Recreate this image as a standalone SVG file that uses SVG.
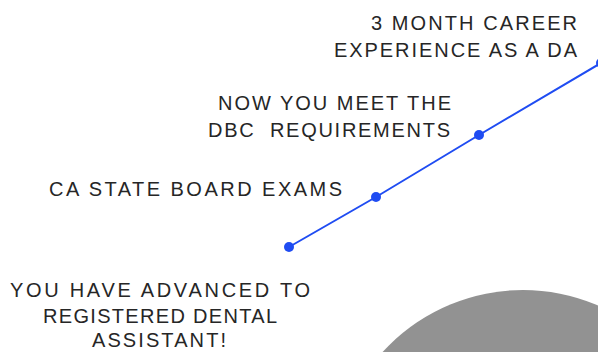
<svg xmlns="http://www.w3.org/2000/svg" width="598" height="352" viewBox="0 0 598 352">
<style>
.t{font-family:"Liberation Sans","Open Sans",sans-serif;font-size:20px;fill:#262626;white-space:pre}
.dot{fill:#1f4cf2}
</style>
<rect width="598" height="352" fill="#ffffff"/>
<circle cx="523" cy="480" r="190" fill="#929292"/>
<g id="connectors">
<polyline points="289,247 376,197 479,135 601,63" fill="none" stroke="#1f4cf2" stroke-width="2"/>
</g>
<g id="node-start"><circle class="dot" cx="289" cy="247" r="5"/></g>
<g id="node-exams"><circle class="dot" cx="376" cy="197" r="5"/>
<text class="t" x="49" y="196" textLength="293" lengthAdjust="spacing">CA STATE BOARD EXAMS</text></g>
<g id="node-dbc"><circle class="dot" cx="479" cy="135" r="5"/>
<text class="t" x="218" y="110" textLength="233" lengthAdjust="spacing">NOW YOU MEET THE</text>
<text class="t" x="208" y="137" textLength="242" lengthAdjust="spacing" xml:space="preserve">DBC  REQUIREMENTS</text></g>
<g id="node-career"><circle class="dot" cx="601" cy="63" r="5"/>
<text class="t" x="371" y="30" textLength="206" lengthAdjust="spacing">3 MONTH CAREER</text>
<text class="t" x="334" y="57" textLength="243" lengthAdjust="spacing">EXPERIENCE AS A DA</text></g>
<g id="node-rda">
<text class="t" x="10" y="297" textLength="300" lengthAdjust="spacing">YOU HAVE ADVANCED TO</text>
<text class="t" x="43" y="323" textLength="234" lengthAdjust="spacing">REGISTERED DENTAL</text>
<text class="t" x="92" y="347" textLength="134" lengthAdjust="spacing">ASSISTANT!</text></g>
</svg>
